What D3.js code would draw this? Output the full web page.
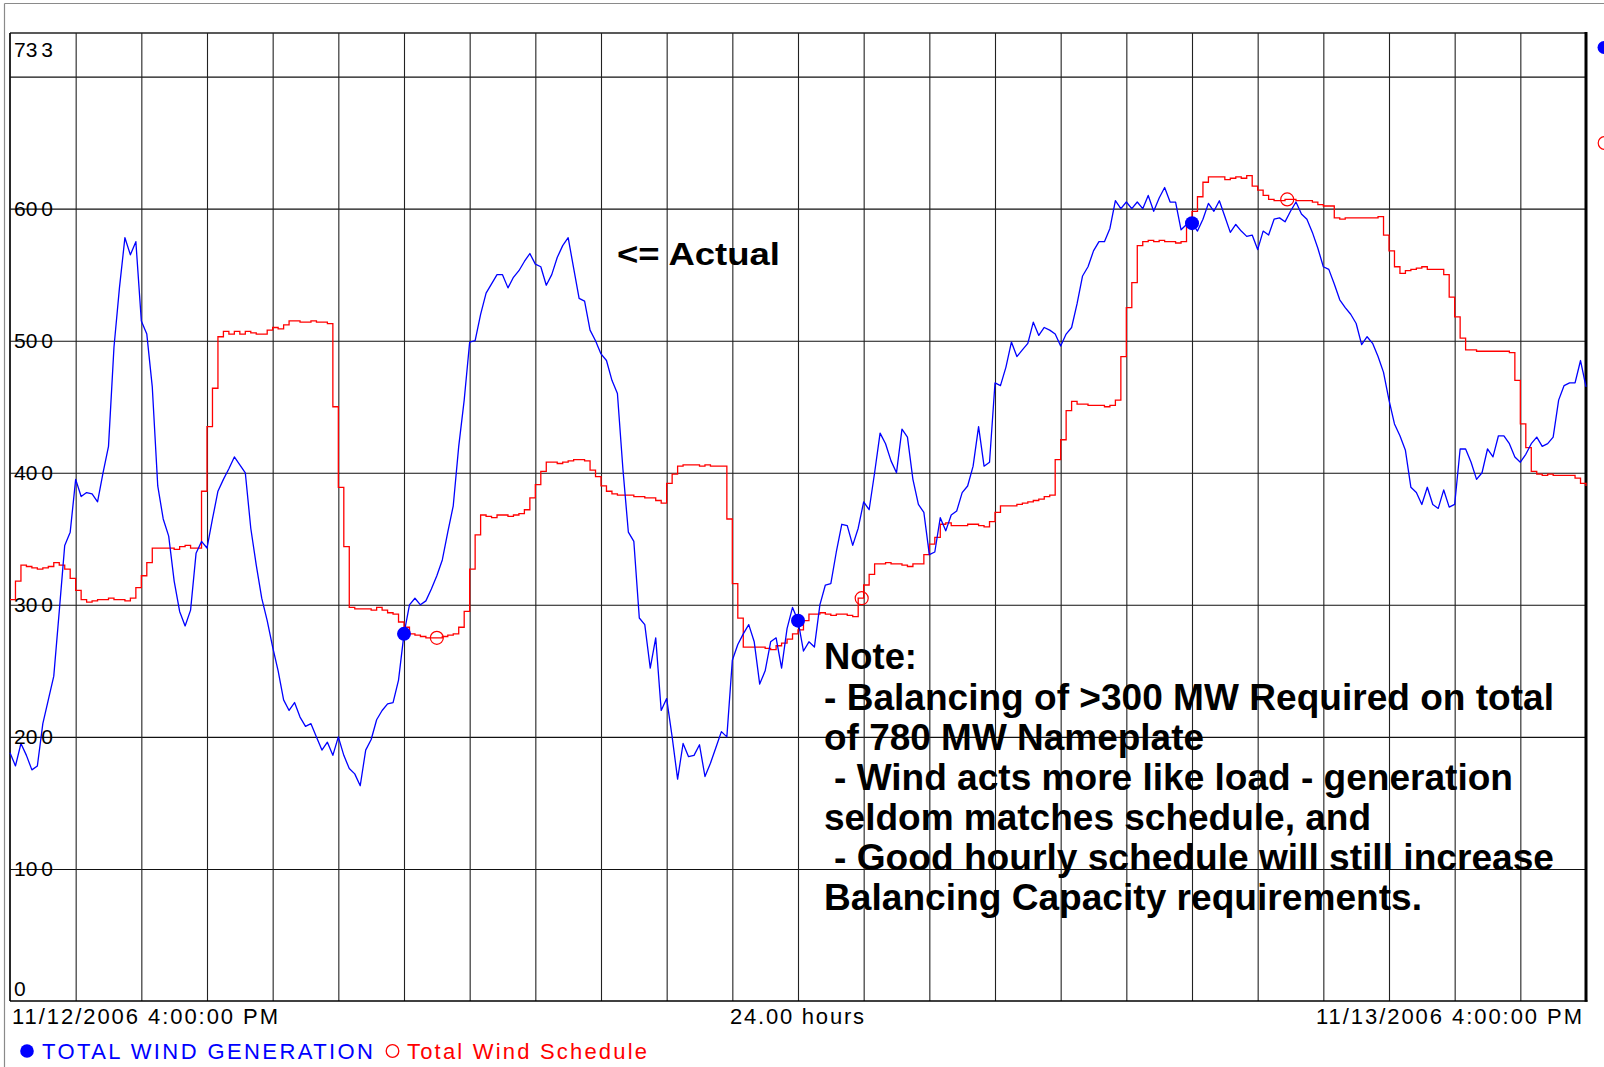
<!DOCTYPE html>
<html><head><meta charset="utf-8">
<script src="https://cdn.jsdelivr.net/npm/d3@7"></script>
<style>body{margin:0;background:#fff}svg{display:block}</style>
</head><body>
<svg id="c" width="1604" height="1067"></svg>
<script>
// 5-minute samples, 11/12/2006 4:00 PM .. 11/13/2006 4:00 PM (MW)
const blueGen = [
188,178,195,186,175,178,210,228,246,295,345,355,
395,382,385,384,378,400,420,495,540,578,565,575,
515,505,465,390,365,352,318,295,284,296,339,348,
343,365,386,395,403,412,406,400,358,330,305,288,
268,250,228,220,226,215,208,210,200,190,196,186,
200,186,176,172,163,190,198,213,220,225,226,243,
278,300,305,300,303,312,322,334,355,375,420,455,
499,500,520,536,543,550,550,540,548,553,560,566,
558,556,542,550,563,572,578,555,532,530,508,500,
490,485,470,460,403,355,348,290,285,252,275,220,
229,200,168,195,185,186,194,170,180,192,204,200,
258,270,278,285,272,240,250,272,275,252,282,298,
288,265,272,268,300,315,316,340,361,360,345,358,
378,372,400,430,422,409,400,433,427,395,376,370,
338,340,366,356,368,371,385,390,405,435,405,408,
468,466,480,499,488,493,498,514,504,510,508,505,
496,505,510,528,549,556,568,575,575,585,606,600,
605,600,605,600,610,598,608,616,605,605,584,588,
589,583,592,604,598,606,594,582,588,583,579,580,
569,583,580,592,593,590,598,605,596,592,582,570,
556,554,543,531,525,520,513,497,503,498,488,476,
455,437,428,417,389,385,376,389,376,373,387,374,
376,418,418,408,395,400,418,412,428,428,422,412,
408,414,422,427,420,422,427,455,466,468,468,485,
465];
const redSched = [
304,318,330,329,328,327,328,329,332,330,327,320,
311,304,302,303,304,304,305,304,304,303,305,313,
322,332,343,343,343,343,342,344,345,343,343,386,
435,464,503,507,505,507,505,507,506,505,505,508,
510,509,512,515,515,514,514,515,514,514,513,450,
389,344,298,297,297,297,296,298,296,294,293,287,
283,278,277,276,275,275,275,276,277,278,283,295,
327,353,368,367,366,368,368,367,368,369,372,381,
391,401,408,408,407,408,409,410,410,409,402,397,
390,386,384,383,383,383,382,382,381,381,379,377,
392,399,405,406,406,406,405,406,405,405,405,365,
316,290,268,268,268,268,267,266,269,271,274,278,
281,288,293,293,294,293,292,293,293,292,291,305,
315,323,331,331,332,331,331,330,329,331,331,338,
346,351,361,362,360,360,360,361,361,360,359,363,
370,375,375,375,376,377,378,379,380,382,383,410,
425,447,454,452,452,451,451,451,450,451,455,488,
525,544,572,575,576,575,576,575,575,574,575,588,
598,609,620,624,624,624,622,623,624,623,625,617,
614,610,607,606,606,607,607,606,606,606,605,603,
602,602,593,592,593,593,593,593,593,593,594,580,
568,556,551,553,554,555,556,554,554,554,550,533,
518,502,493,493,492,492,492,492,492,492,491,470,
437,419,401,399,398,399,398,398,398,398,396,392,
390];
const yLabelValues = [733,600,500,400,300,200,100,0];
const yLabelTexts = ["733","600","500","400","300","200","100","0"];
const yGridValues = [100,200,300,400,500,600,700];
const xGridHours = [1,2,3,4,5,6,7,8,9,10,11,12,13,14,15,16,17,18,19,20,21,22,23];
const xLabelTexts = ["11/12/2006 4:00:00 PM","24.00 hours","11/13/2006 4:00:00 PM"];
const xLabelHours = [0,12,24];
const blueMarkerHours = [6,12,18];
const redMarkerHours = [6.5,12.97,19.45];
const seriesNames = ["TOTAL WIND GENERATION","Total Wind Schedule"];
const annotation = "<= Actual";
const noteLines = ["Note:","- Balancing of >300 MW Required on total","of 780 MW Nameplate",
  " - Wind acts more like load - generation","seldom matches schedule, and",
  " - Good hourly schedule will still increase","Balancing Capacity requirements."];

const FONT = "'Liberation Sans', Arial, Helvetica, sans-serif";
const svg = d3.select("#c");
const L = 10, R = 1586, T = 33, B = 1001;
const x = d3.scaleLinear().domain([0,24]).range([L,R]);
const y = d3.scaleLinear().domain([0,733]).range([B,T]);
const step = 5/60;

// outer frame
svg.append("line").attr("x1",4.5).attr("x2",1604).attr("y1",3.5).attr("y2",3.5).attr("stroke","#8a8a8a").attr("stroke-width",1.2);
svg.append("line").attr("x1",4.5).attr("x2",4.5).attr("y1",3.5).attr("y2",1067).attr("stroke","#8a8a8a").attr("stroke-width",1.2);

// grid via axes
const gy = svg.append("g").attr("transform",`translate(${L},0)`)
  .call(d3.axisLeft(y).tickValues(yGridValues).tickSize(-(R-L)).tickFormat(""));
gy.select(".domain").remove();
gy.selectAll("line").attr("stroke","#111").attr("stroke-width",1.1);
const gx = svg.append("g").attr("transform",`translate(0,${B})`)
  .call(d3.axisBottom(x).tickValues(xGridHours).tickSize(-(B-T)).tickFormat(""));
gx.select(".domain").remove();
gx.selectAll("line").attr("stroke","#222").attr("stroke-width",1.1);

// frame of plot
svg.append("line").attr("x1",L).attr("x2",R).attr("y1",T).attr("y2",T).attr("stroke","#222").attr("stroke-width",1.3);
svg.append("line").attr("x1",L).attr("x2",L).attr("y1",T).attr("y2",B).attr("stroke","#111").attr("stroke-width",1.8);
svg.append("line").attr("x1",L).attr("x2",R+1.5).attr("y1",B).attr("y2",B).attr("stroke","#000").attr("stroke-width",1.6);
svg.append("line").attr("x1",R).attr("x2",R).attr("y1",T-1).attr("y2",B+0.8).attr("stroke","#000").attr("stroke-width",3);

// lines
const lineStep = d3.line().x((d,i)=>x(i*step)).y(d=>y(d)).curve(d3.curveStepAfter);
const lineLin = d3.line().x((d,i)=>x(i*step)).y(d=>y(d));
svg.append("path").datum(redSched).attr("d",lineStep).attr("fill","none").attr("stroke","#ff0000").attr("stroke-width",1.3);
svg.append("path").datum(blueGen).attr("d",lineLin).attr("fill","none").attr("stroke","#0000ff").attr("stroke-width",1.3).attr("stroke-linejoin","round");

// markers
svg.selectAll("circle.rm").data(redMarkerHours).join("circle").attr("class","rm")
  .attr("cx",h=>x(h)).attr("cy",h=>y(redSched[Math.floor(h/step)]))
  .attr("r",6.5).attr("fill","none").attr("stroke","#ff0000").attr("stroke-width",1.2);
svg.selectAll("circle.bm").data(blueMarkerHours).join("circle").attr("class","bm")
  .attr("cx",h=>x(h)).attr("cy",h=>y(blueGen[Math.round(h/step)]))
  .attr("r",7).attr("fill","#0000ff");
// cut-off right-side symbols
svg.append("circle").attr("cx",1604).attr("cy",47.5).attr("r",6.5).attr("fill","#0000ff");
svg.append("circle").attr("cx",1604.5).attr("cy",143).attr("r",6.3).attr("fill","none").attr("stroke","#ff0000").attr("stroke-width",1.2);

// y labels
yLabelValues.forEach((v,i)=>{
  const s = yLabelTexts[i];
  let by = y(v)+7;
  if (v===733) by = y(v)+24;
  if (v===0) by = y(v)-5;
  const t = svg.append("text").attr("x",14).attr("y",by).attr("font-family",FONT).attr("font-size",21).attr("fill","#000");
  if (s.length>1){
    t.append("tspan").text(s.slice(0,-1));
    t.append("tspan").attr("dx",4).text(s.slice(-1));
  } else t.text(s);
});

// x labels
const xl = [[12,"start",266],[797,"middle",134],[1582,"end",266]];
xLabelTexts.forEach((s,i)=>{
  svg.append("text").attr("x",xl[i][0]).attr("y",1024).attr("text-anchor",xl[i][1])
    .attr("font-family",FONT).attr("font-size",22).attr("fill","#000")
    .attr("textLength",xl[i][2]).attr("lengthAdjust","spacing").text(s);
});

// legend
svg.append("circle").attr("cx",27).attr("cy",1051).attr("r",6.8).attr("fill","#0000ff");
svg.append("text").attr("x",42).attr("y",1058.5).attr("font-family",FONT).attr("font-size",22)
  .attr("fill","#0000ff").attr("textLength",331).attr("lengthAdjust","spacing").text(seriesNames[0]);
svg.append("circle").attr("cx",392.5).attr("cy",1051).attr("r",6.3).attr("fill","none").attr("stroke","#ff0000").attr("stroke-width",1.3);
svg.append("text").attr("x",407).attr("y",1058.5).attr("font-family",FONT).attr("font-size",22)
  .attr("fill","#ff0000").attr("textLength",240).attr("lengthAdjust","spacing").text(seriesNames[1]);

// annotation
svg.append("text").attr("x",617).attr("y",265).attr("font-family",FONT).attr("font-weight","bold")
  .attr("font-size",32).attr("fill","#000").attr("textLength",163).attr("lengthAdjust","spacingAndGlyphs").text(annotation);

// note block
const noteX = [824,824,824,834,824,834,824];
const noteW = [93,730,380,679,547,720,598];
const noteBase = [669,710,749.5,790,830,870,910];
noteLines.forEach((s,i)=>{
  svg.append("text").attr("x",noteX[i]).attr("y",noteBase[i]).attr("font-family",FONT)
    .attr("font-weight","bold").attr("font-size",36).attr("fill","#000")
    .attr("textLength",noteW[i]).attr("lengthAdjust","spacingAndGlyphs").text(s.trim());
});
</script>
</body></html>
